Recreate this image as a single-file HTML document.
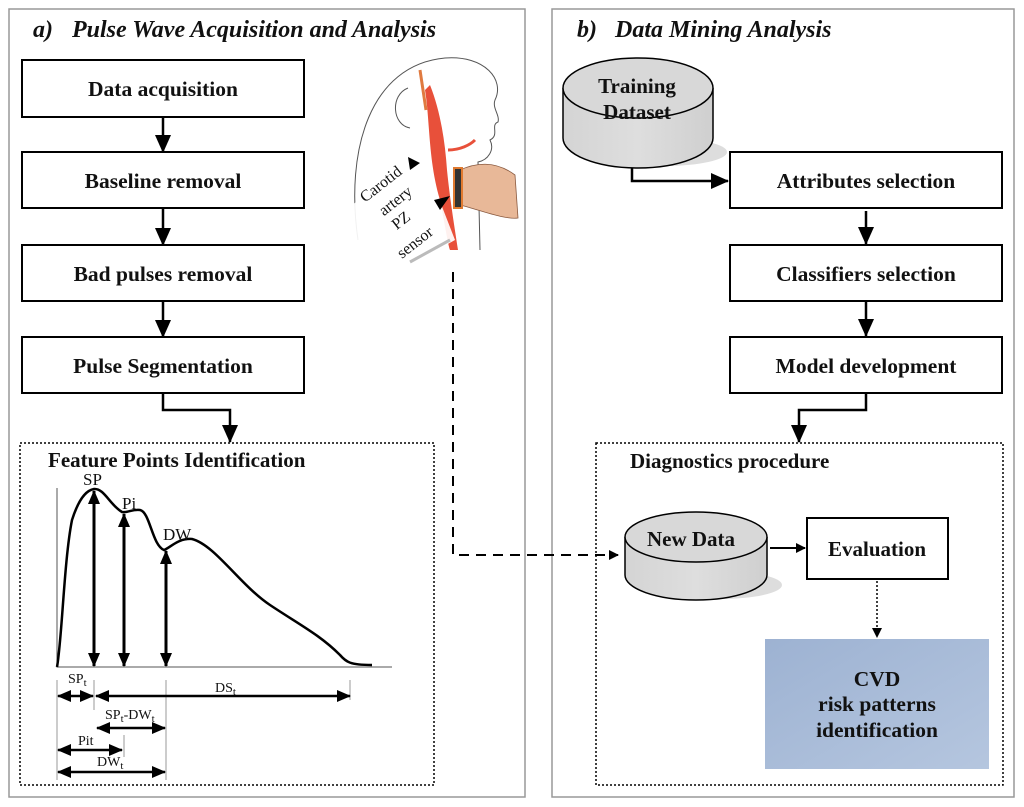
<!DOCTYPE html>
<html><head><meta charset="utf-8"><style>
body{margin:0;background:#fff}
svg{display:block}
text{font-family:"Liberation Serif",serif;fill:#111}
.b{font-weight:bold}
.n{font-weight:normal}
</style></head><body>
<svg width="1024" height="807" viewBox="0 0 1024 807" xmlns="http://www.w3.org/2000/svg">
<defs>
<marker id="ah" markerWidth="10" markerHeight="10" refX="9" refY="5" orient="auto" markerUnits="userSpaceOnUse"><path d="M0,0 L10,5 L0,10 z" fill="#000"/></marker>
<marker id="big" markerWidth="18" markerHeight="16" refX="17" refY="8" orient="auto" markerUnits="userSpaceOnUse"><path d="M0,0 L18,8 L0,16 z" fill="#000"/></marker>
<marker id="sm" markerWidth="14" markerHeight="12" refX="13" refY="6" orient="auto-start-reverse" markerUnits="userSpaceOnUse"><path d="M0,0 L14,6 L0,12 z" fill="#000"/></marker>
<linearGradient id="cvd" x1="0" y1="0" x2="1" y2="1"><stop offset="0" stop-color="#9db2d2"/><stop offset="1" stop-color="#b5c6df"/></linearGradient>
<linearGradient id="cyl" x1="0" y1="0" x2="1" y2="0"><stop offset="0" stop-color="#d4d4d4"/><stop offset="0.5" stop-color="#dedede"/><stop offset="1" stop-color="#cfcfcf"/></linearGradient>
</defs>
<rect x="9" y="9" width="516" height="788" fill="none" stroke="#999" stroke-width="1.5"/>
<rect x="552" y="9" width="462" height="788" fill="none" stroke="#999" stroke-width="1.5"/>
<g class="b" font-size="24" font-style="italic">
<text x="33" y="37">a)</text>
<text x="72" y="37">Pulse Wave Acquisition and Analysis</text>
<text x="577" y="37">b)</text>
<text x="615" y="37">Data Mining Analysis</text>
</g>

<g stroke="#000" stroke-width="2" fill="#fff">
<rect x="22" y="60" width="282" height="57"/>
<rect x="22" y="152" width="282" height="56"/>
<rect x="22" y="245" width="282" height="56"/>
<rect x="22" y="337" width="282" height="56"/>
</g>
<g class="b" font-size="21.5" text-anchor="middle">
<text x="163" y="96">Data acquisition</text>
<text x="163" y="188">Baseline removal</text>
<text x="163" y="281">Bad pulses removal</text>
<text x="163" y="373">Pulse Segmentation</text>
</g>
<g stroke="#000" stroke-width="2.5" fill="none" marker-end="url(#big)">
<path d="M163,117 V152"/>
<path d="M163,208 V245"/>
<path d="M163,301 V337"/>
<path d="M163,393 V410 H230 V442"/>
</g>

<g>
<path d="M358,240 C345,150 370,65 445,58 C485,55 505,80 495,100 C492,108 500,115 498,122 C490,125 500,135 490,140 C495,150 488,160 478,162 L480,250" fill="none" stroke="#555" stroke-width="1"/>
<path d="M408,88 C390,95 392,125 410,128" fill="none" stroke="#555"/>
<path d="M425,90 C430,120 428,160 440,200 C445,225 448,245 450,250 L458,250 C455,230 450,200 447,170 C445,140 440,110 430,85 Z" fill="#e8503a"/>
<path d="M420,70 L426,110" stroke="#e07a40" stroke-width="3"/>
<path d="M448,150 C460,150 470,145 475,140" stroke="#e8503a" stroke-width="3" fill="none"/>
<path d="M460,170 C475,163 495,160 515,175 L518,218 C505,220 480,210 460,205 Z" fill="#e8b898" stroke="#8a5a40" stroke-width="0.8"/>
<rect x="454" y="168" width="8" height="40" fill="#333" stroke="#e07a30" stroke-width="2"/>
<polygon points="340,215 420,150 455,240 410,265 348,248" fill="#fff" opacity="0.92"/>
<text class="n" x="352" y="195" font-size="16" transform="rotate(-38 370 180)">Carotid</text>
<text class="n" x="372" y="208" font-size="16" transform="rotate(-38 390 195)">artery</text>
<text class="n" x="388" y="225" font-size="16" transform="rotate(-38 400 215)">PZ</text>
<text class="n" x="392" y="250" font-size="16" transform="rotate(-38 410 240)">sensor</text>
<polygon points="408,157 420,163 410,170" fill="#000"/>
<polygon points="434,200 450,196 440,210" fill="#000"/>
<path d="M410,262 L450,240" stroke="#bbb" stroke-width="3"/>
</g>
<path d="M453,272 V555 H618" fill="none" stroke="#000" stroke-width="2" stroke-dasharray="10,7" marker-end="url(#ah)"/>

<rect x="20" y="443" width="414" height="342" fill="none" stroke="#000" stroke-width="1.5" stroke-dasharray="2,2"/>
<text class="b" x="48" y="467" font-size="21">Feature Points Identification</text>
<path d="M57,488 V667 H392" fill="none" stroke="#555" stroke-width="1"/>
<path d="M57,667 C62,640 64,560 72,520 C80,495 88,490 94,489 C104,488 110,505 122,512 C128,513 132,509 140,510 C150,512 152,545 164,550 C170,548 178,538 192,539 C215,545 240,585 270,605 C300,625 320,635 340,655 C346,662 350,665 372,665" fill="none" stroke="#000" stroke-width="2.5"/>
<g class="n" font-size="17">
<text x="83" y="485">SP</text>
<text x="122" y="509">Pi</text>
<text x="163" y="540">DW</text>
</g>
<g stroke="#000" stroke-width="3" marker-start="url(#sm)" marker-end="url(#sm)">
<path d="M94,491 V666"/>
<path d="M124,514 V666"/>
<path d="M166,551 V666"/>
</g>
<g stroke="#999" stroke-width="1">
<path d="M57,680 V780"/><path d="M94,680 V710"/><path d="M124,735 V757"/><path d="M166,680 V780"/><path d="M350,680 V700"/>
</g>
<g stroke="#000" stroke-width="2.5" marker-start="url(#sm)" marker-end="url(#sm)">
<path d="M58,696 H93"/>
<path d="M96,696 H350"/>
<path d="M97,728 H165"/>
<path d="M58,750 H122"/>
<path d="M58,772 H165"/>
</g>
<g class="n" font-size="14">
<text x="68" y="683">SP<tspan font-size="11" dy="3">t</tspan></text>
<text x="215" y="692">DS<tspan font-size="11" dy="3">t</tspan></text>
<text x="105" y="719">SP<tspan font-size="11" dy="3">t</tspan><tspan dy="-3">-DW</tspan><tspan font-size="11" dy="3">t</tspan></text>
<text x="78" y="745">Pit</text>
<text x="97" y="766">DW<tspan font-size="11" dy="3">t</tspan></text>
</g>

<ellipse cx="665" cy="152" rx="62" ry="14" fill="#ddd"/>
<path d="M563,88 V138 A75,30 0 0 0 713,138 V88" fill="url(#cyl)" stroke="#000" stroke-width="1.5"/>
<ellipse cx="638" cy="88" rx="75" ry="30" fill="#d8d8d8" stroke="#000" stroke-width="1.5"/>
<text class="b" x="637" y="93" font-size="21" text-anchor="middle">Training</text>
<text class="b" x="637" y="119" font-size="21" text-anchor="middle">Dataset</text>
<path d="M632,168 V181 H728" fill="none" stroke="#000" stroke-width="2.5" marker-end="url(#big)"/>
<g stroke="#000" stroke-width="2" fill="#fff">
<rect x="730" y="152" width="272" height="56"/>
<rect x="730" y="245" width="272" height="56"/>
<rect x="730" y="337" width="272" height="56"/>
</g>
<g class="b" font-size="21.5" text-anchor="middle">
<text x="866" y="188">Attributes selection</text>
<text x="866" y="281">Classifiers selection</text>
<text x="866" y="373">Model development</text>
</g>
<g stroke="#000" stroke-width="2.5" fill="none" marker-end="url(#big)">
<path d="M866,211 V244"/>
<path d="M866,301 V336"/>
<path d="M866,393 V410 H799 V442"/>
</g>
<rect x="596" y="443" width="407" height="342" fill="none" stroke="#000" stroke-width="1.5" stroke-dasharray="2,2"/>
<text class="b" x="630" y="468" font-size="21">Diagnostics procedure</text>
<ellipse cx="720" cy="585" rx="62" ry="14" fill="#ddd"/>
<path d="M625,537 V575 A71,25 0 0 0 767,575 V537" fill="url(#cyl)" stroke="#000" stroke-width="1.5"/>
<ellipse cx="696" cy="537" rx="71" ry="25" fill="#d8d8d8" stroke="#000" stroke-width="1.5"/>
<text class="b" x="691" y="546" font-size="21" text-anchor="middle">New Data</text>
<path d="M770,548 H805" stroke="#000" stroke-width="2" marker-end="url(#ah)"/>
<rect x="807" y="518" width="141" height="61" fill="#fff" stroke="#000" stroke-width="2"/>
<text class="b" x="877" y="556" font-size="21" text-anchor="middle">Evaluation</text>
<path d="M877,581 V637" stroke="#000" stroke-width="1.5" stroke-dasharray="2,2" marker-end="url(#ah)"/>
<rect x="765" y="639" width="224" height="130" fill="url(#cvd)"/>
<g class="b" font-size="21.5" text-anchor="middle">
<text x="877" y="686">CVD</text>
<text x="877" y="711">risk patterns</text>
<text x="877" y="737">identification</text>
</g>
</svg>
</body></html>
